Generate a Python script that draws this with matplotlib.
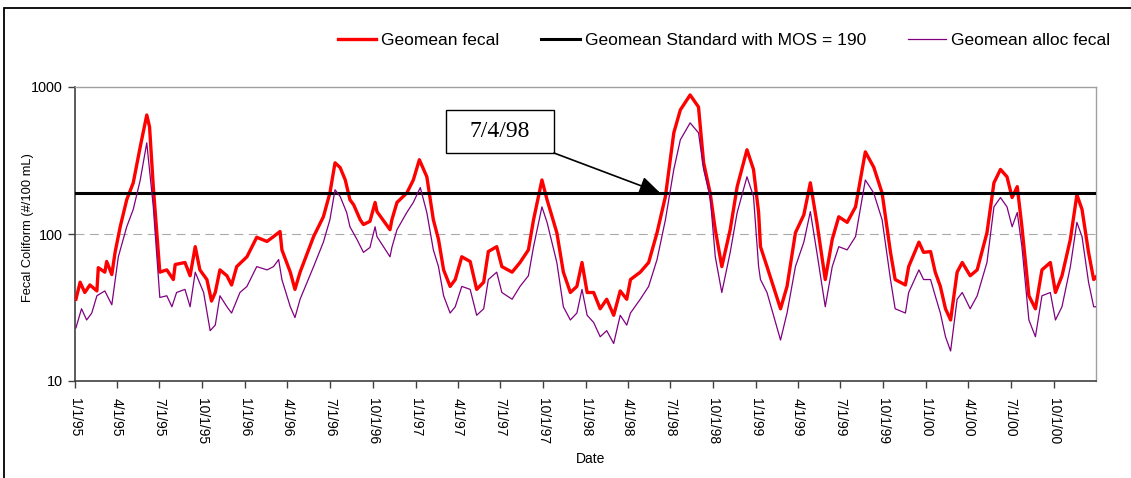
import numpy as np
import pandas as pd
import matplotlib
matplotlib.use('Agg')
import matplotlib.pyplot as plt
from matplotlib.patches import Rectangle

# values, x = days since 1/1/95
fecal_days = [2, 11, 21, 32, 47, 50, 64, 68, 79, 86,
              97, 111, 125, 140, 154, 160, 168, 182, 197, 211,
              215, 236, 247, 258, 268, 283, 293, 301, 311, 326,
              336, 347, 369, 390, 412, 426, 440, 444, 462, 472,
              483, 512, 533, 547, 558, 569, 580, 590, 598, 612,
              619, 633, 644, 648, 676, 680, 691, 712, 726, 739,
              755, 769, 780, 791, 805, 816, 830, 848, 862, 877,
              887, 905, 916, 938, 955, 973, 984, 1002, 1013, 1034,
              1048, 1063, 1077, 1088, 1099, 1113, 1127, 1141, 1156, 1170,
              1184, 1192, 1213, 1231, 1249, 1267, 1285, 1299, 1320, 1338,
              1349, 1363, 1374, 1388, 1406, 1421, 1442, 1456, 1467, 1471,
              1485, 1514, 1528, 1546, 1564, 1578, 1592, 1610, 1625, 1639,
              1657, 1675, 1696, 1714, 1732, 1750, 1760, 1782, 1789, 1811,
              1821, 1836, 1846, 1857, 1868, 1879, 1893, 1904, 1921, 1936,
              1957, 1972, 1986, 2000, 2011, 2022, 2032, 2047, 2061, 2075,
              2093, 2104, 2118, 2136, 2150, 2161, 2175, 2186, 2191]
fecal_vals = [36, 47, 40, 45, 41, 59, 55, 65, 53, 75,
              112, 171, 223, 392, 645, 535, 210, 55, 57, 49,
              62, 64, 52, 82, 57, 49, 35, 40, 57, 52,
              45, 60, 70, 95, 89, 96, 104, 78, 55, 42,
              55, 96, 131, 190, 305, 283, 233, 171, 158, 125,
              116, 122, 164, 142, 107, 125, 164, 190, 233, 320,
              245, 125, 92, 57, 44, 49, 70, 65, 42, 47,
              76, 82, 60, 55, 64, 78, 125, 233, 171, 102,
              55, 40, 44, 64, 40, 40, 31, 36, 28, 41,
              36, 49, 55, 64, 102, 180, 488, 698, 883, 731,
              305, 190, 107, 60, 107, 210, 374, 275, 140, 82,
              60, 31, 44, 102, 135, 223, 120, 49, 92, 131,
              120, 153, 362, 285, 190, 75, 49, 45, 60, 88,
              75, 76, 55, 44, 31, 26, 55, 64, 52, 57,
              102, 223, 275, 245, 177, 210, 112, 38, 31, 57,
              64, 40, 52, 92, 185, 147, 75, 49, 51]

alloc_days = [2, 14, 25, 36, 47, 64, 79, 93, 111, 125,
              140, 154, 168, 182, 197, 208, 218, 236, 247, 258,
              276, 290, 301, 311, 326, 336, 354, 369, 390, 412,
              426, 437, 444, 462, 472, 483, 512, 533, 547, 558,
              569, 583, 590, 605, 619, 633, 644, 648, 676, 680,
              691, 712, 726, 741, 755, 769, 780, 791, 805, 816,
              830, 848, 862, 877, 887, 905, 916, 938, 955, 973,
              984, 1002, 1013, 1034, 1048, 1063, 1077, 1088, 1099, 1113,
              1127, 1141, 1156, 1170, 1184, 1192, 1213, 1231, 1249, 1267,
              1285, 1299, 1320, 1338, 1349, 1363, 1374, 1388, 1406, 1421,
              1442, 1456, 1467, 1471, 1485, 1514, 1528, 1546, 1564, 1578,
              1592, 1610, 1625, 1639, 1657, 1675, 1696, 1714, 1732, 1750,
              1760, 1782, 1789, 1811, 1821, 1836, 1846, 1857, 1868, 1879,
              1893, 1904, 1921, 1936, 1957, 1972, 1986, 2000, 2011, 2022,
              2032, 2047, 2061, 2075, 2093, 2104, 2118, 2136, 2150, 2161,
              2175, 2186, 2191]
alloc_vals = [23, 31, 26, 29, 38, 41, 33, 70, 112, 147,
              233, 417, 153, 37, 38, 32, 40, 42, 32, 55,
              40, 22, 24, 38, 32, 29, 40, 44, 60, 57,
              60, 67, 49, 32, 27, 36, 60, 88, 125, 200,
              180, 140, 112, 92, 75, 81, 112, 96, 70, 81,
              107, 140, 164, 207, 140, 78, 60, 38, 29, 32,
              44, 42, 28, 31, 49, 55, 40, 36, 44, 52,
              82, 153, 120, 64, 32, 26, 29, 42, 28, 25,
              20, 22, 18, 28, 24, 29, 36, 44, 67, 125,
              275, 437, 570, 488, 275, 180, 70, 40, 75, 140,
              245, 180, 60, 49, 40, 19, 29, 60, 88, 142,
              75, 32, 60, 82, 78, 96, 233, 190, 125, 49,
              31, 29, 40, 57, 49, 49, 38, 29, 20, 16,
              36, 40, 31, 38, 64, 153, 177, 153, 112, 140,
              82, 26, 20, 38, 40, 26, 32, 60, 120, 96,
              47, 32, 32]

standard = 190
start, end = pd.Timestamp('1995-01-01'), pd.Timestamp('2000-12-31')
note_text = '7/4/98'
arrow_date = pd.Timestamp('1998-06-10')  # where the arrow head sits on the chart

tick_dates = pd.date_range('1995-01-01', '2000-10-01', freq='QS')
tick_labels = ['1/1/95', '4/1/95', '7/1/95', '10/1/95',
               '1/1/96', '4/1/96', '7/1/96', '10/1/96',
               '1/1/97', '4/1/97', '7/1/97', '10/1/97',
               '1/1/98', '4/1/98', '7/1/98', '10/1/98',
               '1/1/99', '4/1/99', '7/1/99', '10/1/99',
               '1/1/00', '4/1/00', '7/1/00', '10/1/00']

fecal_dates = start + pd.to_timedelta(fecal_days, unit='D')
alloc_dates = start + pd.to_timedelta(alloc_days, unit='D')

plt.rcParams['font.family'] = ['Liberation Sans', 'DejaVu Sans']

W, H = 1131, 478
L, R, T, B = 75, 1096, 87, 381   # plot area in pixels
fig = plt.figure(figsize=(W / 100, H / 100), dpi=100)
ax = fig.add_axes([L / W, 1 - B / H, (R - L) / W, (B - T) / H])

def axfrac(px, py):
    return (px - L) / (R - L), (B - py) / (B - T)

ax.plot(fecal_dates, fecal_vals, color='#ff0000', lw=2.4, label='Geomean fecal', zorder=3)
ax.plot([start, end], [standard, standard], color='black', lw=2.2,
        label='Geomean Standard with MOS = 190', zorder=4)
ax.plot(alloc_dates, alloc_vals, color='#800080', lw=0.9, label='Geomean alloc fecal', zorder=5)

ax.set_yscale('log')
ax.set_ylim(10, 1000)
ax.set_xlim(start, end)
ax.set_yticks([10, 100, 1000])
ax.set_yticklabels(['10', '100', '1000'])
ax.yaxis.set_minor_locator(matplotlib.ticker.NullLocator())
ax.set_xticks(tick_dates)
ax.set_xticklabels(tick_labels, rotation=-90, va='top', ha='center')
ax.tick_params(axis='both', length=5, width=1, color='#404040')
ax.tick_params(axis='y', labelsize=10.4, pad=4)
ax.tick_params(axis='x', labelsize=10, pad=7)
ax.axhline(100, color='#aaaaaa', lw=0.8, ls=(0, (8, 5)), zorder=1)

for s in ['top', 'right']:
    ax.spines[s].set_color('#a0a0a0')
    ax.spines[s].set_linewidth(1)
for s in ['left', 'bottom']:
    ax.spines[s].set_color('#404040')
    ax.spines[s].set_linewidth(1.2)

ax.set_ylabel('Fecal Coliform (#/100 mL)', fontsize=9.3)
ax.yaxis.set_label_coords(*axfrac(34, 228))
ax.set_xlabel('Date', fontsize=10)
ax.xaxis.set_label_coords(*axfrac(591, 452))

# note box with arrow
bx0, by0 = axfrac(446, 153)
bx1, by1 = axfrac(554, 110)
ax.add_patch(Rectangle((bx0, by0), bx1 - bx0, by1 - by0, transform=ax.transAxes,
                       fc='white', ec='black', lw=1, zorder=6))
ax.text((bx0 + bx1) / 2, (by0 + by1) / 2, note_text, transform=ax.transAxes,
        ha='center', va='center', fontsize=17, family='Liberation Serif', zorder=7)
ax.annotate('', xy=(arrow_date, standard), xytext=(bx1, by0), textcoords='axes fraction',
            arrowprops=dict(arrowstyle='-|>,head_length=0.8,head_width=0.35',
                            color='black', lw=1.2, mutation_scale=16,
                            shrinkA=0, shrinkB=0),
            zorder=6)

fig.legend(loc='center left', bbox_to_anchor=(338 / W, 1 - 40 / H), ncol=3,
           frameon=False, fontsize=12.5, handlelength=2.2, handletextpad=0.3,
           columnspacing=2.4, borderpad=0, borderaxespad=0)

fig.add_artist(Rectangle((4 / W, -0.1), 1.2, 1.1 - 8 / H, transform=fig.transFigure,
                         fill=False, ec='black', lw=1.3))

fig.savefig('out.png', dpi=100)
